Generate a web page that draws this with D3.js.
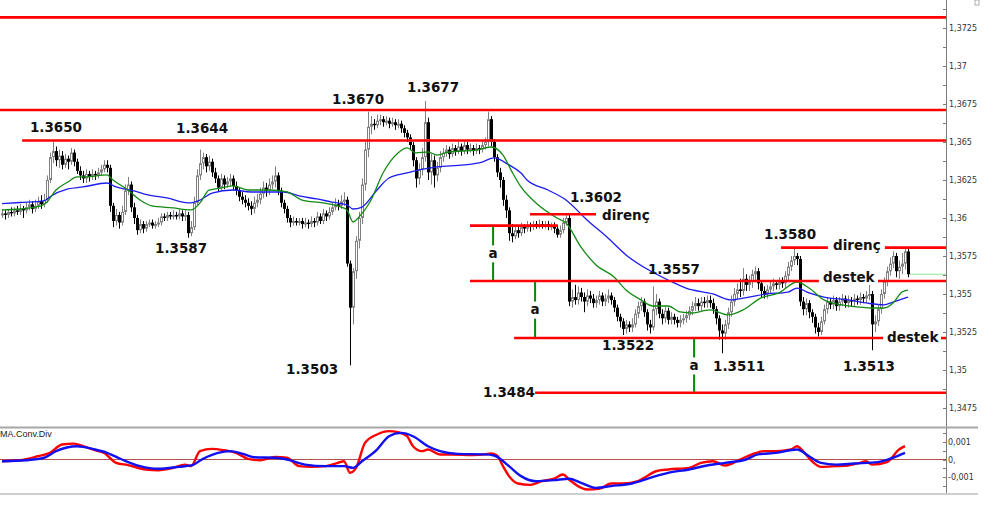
<!DOCTYPE html>
<html><head><meta charset="utf-8">
<script src="https://cdn.jsdelivr.net/npm/d3@7"></script>
<style>html,body{margin:0;padding:0;background:#fff;overflow:hidden}</style>
</head><body><svg id="c" width="1000" height="515"></svg>
<script>
// ---------- DATA ----------
const firstOpen = 1.3602;
const closes = [
1.3603,1.3602,1.3604,1.3603,1.3605,1.3604,1.3606,1.3605,1.3607,1.3609,
1.3606,1.3608,1.3611,1.3609,1.3612,1.3625,1.3640,1.3644,1.3638,1.3641,
1.3635,1.3639,1.3637,1.3643,1.3637,1.3631,1.3628,1.3626,1.3629,1.3627,
1.3629,1.3628,1.3630,1.3632,1.3635,1.3633,1.3608,1.3598,1.3602,1.3597,
1.3604,1.3618,1.3622,1.3607,1.3600,1.3592,1.3596,1.3593,1.3596,1.3597,
1.3595,1.3596,1.3597,1.3601,1.3600,1.3602,1.3601,1.3602,1.3601,1.3603,
1.3601,1.3602,1.3590,1.3594,1.3610,1.3628,1.3636,1.3640,1.3634,1.3637,
1.3630,1.3626,1.3620,1.3626,1.3622,1.3624,1.3626,1.3621,1.3618,1.3614,
1.3612,1.3610,1.3608,1.3606,1.3610,1.3612,1.3616,1.3620,1.3618,1.3622,
1.3624,1.3628,1.3618,1.3610,1.3606,1.3600,1.3597,1.3598,1.3597,1.3598,
1.3596,1.3597,1.3596,1.3598,1.3597,1.3601,1.3598,1.3603,1.3601,1.3604,
1.3607,1.3609,1.3608,1.3611,1.3612,1.3570,1.3541,1.3565,1.3585,1.3600,
1.3622,1.3645,1.3660,1.3662,1.3661,1.3664,1.3665,1.3663,1.3664,1.3662,
1.3663,1.3661,1.3662,1.3659,1.3656,1.3653,1.3648,1.3638,1.3626,1.3632,
1.3640,1.3663,1.3630,1.3638,1.3628,1.3633,1.3640,1.3643,1.3645,1.3642,
1.3646,1.3644,1.3647,1.3644,1.3648,1.3645,1.3646,1.3644,1.3646,1.3645,
1.3648,1.3650,1.3665,1.3650,1.3640,1.3630,1.3625,1.3612,1.3605,1.3590,
1.3588,1.3592,1.3590,1.3594,1.3593,1.3595,1.3594,1.3596,1.3595,1.3596,
1.3595,1.3596,1.3594,1.3595,1.3593,1.3589,1.3592,1.3597,1.3600,1.3545,
1.3548,1.3546,1.3551,1.3548,1.3545,1.3549,1.3547,1.3544,1.3546,1.3549,
1.3545,1.3547,1.3549,1.3546,1.3541,1.3535,1.3532,1.3527,1.3530,1.3528,
1.3530,1.3537,1.3542,1.3545,1.3538,1.3530,1.3528,1.3540,1.3545,1.3537,
1.3534,1.3539,1.3533,1.3535,1.3533,1.3531,1.3533,1.3534,1.3536,1.3539,
1.3542,1.3544,1.3542,1.3545,1.3544,1.3546,1.3544,1.3540,1.3534,1.3526,
1.3524,1.3530,1.3538,1.3545,1.3550,1.3553,1.3552,1.3560,1.3556,1.3558,
1.3563,1.3565,1.3557,1.3552,1.3550,1.3553,1.3555,1.3557,1.3556,1.3558,
1.3557,1.3562,1.3568,1.3572,1.3575,1.3573,1.3545,1.3540,1.3544,1.3538,
1.3535,1.3528,1.3525,1.3532,1.3540,1.3545,1.3543,1.3546,1.3542,1.3545,
1.3547,1.3544,1.3546,1.3545,1.3547,1.3546,1.3548,1.3547,1.3549,1.3550,
1.3530,1.3532,1.3540,1.3550,1.3558,1.3565,1.3570,1.3575,1.3565,1.3568,
1.3570,1.3578,1.3563];
const highs = [
1.3606,1.3605,1.3606,1.3607,1.3607,1.3608,1.3609,1.3608,1.3610,1.3612,
1.3611,1.3612,1.3614,1.3615,1.3616,1.3628,1.3643,1.3650,1.3647,1.3645,
1.3644,1.3642,1.3641,1.3646,1.3645,1.3639,1.3634,1.3631,1.3632,1.3631,
1.3632,1.3631,1.3633,1.3635,1.3638,1.3638,1.3635,1.3610,1.3606,1.3604,
1.3608,1.3622,1.3627,1.3624,1.3610,1.3602,1.3599,1.3598,1.3598,1.3599,
1.3599,1.3598,1.3600,1.3603,1.3603,1.3604,1.3604,1.3605,1.3604,1.3606,
1.3605,1.3605,1.3604,1.3598,1.3614,1.3632,1.3645,1.3643,1.3642,1.3641,
1.3639,1.3633,1.3628,1.3629,1.3628,1.3627,1.3629,1.3628,1.3624,1.3620,
1.3617,1.3615,1.3613,1.3611,1.3614,1.3616,1.3620,1.3624,1.3623,1.3626,
1.3628,1.3634,1.3630,1.3620,1.3612,1.3608,1.3602,1.3601,1.3600,1.3600,
1.3600,1.3600,1.3599,1.3601,1.3600,1.3604,1.3603,1.3606,1.3605,1.3607,
1.3610,1.3613,1.3612,1.3615,1.3617,1.3614,1.3572,1.3567,1.3588,1.3604,
1.3626,1.3650,1.3670,1.3667,1.3665,1.3668,1.3668,1.3667,1.3667,1.3666,
1.3666,1.3665,1.3665,1.3664,1.3661,1.3658,1.3655,1.3650,1.3640,1.3636,
1.3646,1.3677,1.3666,1.3642,1.3641,1.3637,1.3644,1.3646,1.3648,1.3647,
1.3649,1.3648,1.3650,1.3649,1.3651,1.3650,1.3649,1.3648,1.3649,1.3648,
1.3651,1.3653,1.3670,1.3667,1.3652,1.3642,1.3633,1.3627,1.3615,1.3607,
1.3596,1.3595,1.3594,1.3597,1.3596,1.3598,1.3597,1.3598,1.3598,1.3599,
1.3598,1.3598,1.3598,1.3597,1.3597,1.3595,1.3595,1.3600,1.3602,1.3602,
1.3553,1.3556,1.3555,1.3554,1.3551,1.3553,1.3552,1.3550,1.3549,1.3552,
1.3551,1.3550,1.3553,1.3551,1.3548,1.3543,1.3537,1.3534,1.3533,1.3532,
1.3534,1.3540,1.3545,1.3548,1.3547,1.3540,1.3533,1.3555,1.3550,1.3547,
1.3540,1.3542,1.3541,1.3538,1.3537,1.3535,1.3536,1.3537,1.3539,1.3542,
1.3545,1.3548,1.3547,1.3548,1.3548,1.3549,1.3549,1.3547,1.3542,1.3536,
1.3530,1.3533,1.3541,1.3549,1.3554,1.3557,1.3560,1.3567,1.3563,1.3562,
1.3566,1.3568,1.3567,1.3559,1.3555,1.3556,1.3558,1.3560,1.3559,1.3561,
1.3561,1.3565,1.3571,1.3575,1.3580,1.3577,1.3575,1.3548,1.3547,1.3546,
1.3540,1.3537,1.3531,1.3535,1.3543,1.3548,1.3547,1.3549,1.3548,1.3548,
1.3550,1.3549,1.3549,1.3548,1.3550,1.3549,1.3551,1.3550,1.3552,1.3556,
1.3552,1.3536,1.3543,1.3553,1.3561,1.3568,1.3574,1.3578,1.3577,1.3572,
1.3577,1.3580,1.3580];
const lows = [
1.3600,1.3599,1.3600,1.3601,1.3601,1.3602,1.3602,1.3600,1.3603,1.3605,
1.3603,1.3604,1.3606,1.3606,1.3607,1.3610,1.3623,1.3636,1.3634,1.3633,
1.3632,1.3633,1.3632,1.3635,1.3634,1.3629,1.3625,1.3623,1.3623,1.3624,
1.3625,1.3625,1.3626,1.3628,1.3630,1.3630,1.3604,1.3594,1.3595,1.3593,
1.3595,1.3602,1.3615,1.3604,1.3596,1.3589,1.3590,1.3590,1.3591,1.3594,
1.3593,1.3593,1.3594,1.3595,1.3598,1.3598,1.3599,1.3599,1.3599,1.3599,
1.3598,1.3598,1.3587,1.3588,1.3592,1.3608,1.3625,1.3632,1.3630,1.3631,
1.3627,1.3623,1.3617,1.3618,1.3619,1.3620,1.3621,1.3618,1.3615,1.3611,
1.3609,1.3607,1.3605,1.3602,1.3603,1.3607,1.3609,1.3613,1.3614,1.3615,
1.3619,1.3620,1.3615,1.3607,1.3603,1.3597,1.3594,1.3595,1.3595,1.3595,
1.3593,1.3594,1.3593,1.3594,1.3594,1.3595,1.3596,1.3596,1.3598,1.3599,
1.3602,1.3605,1.3605,1.3606,1.3608,1.3568,1.3503,1.3530,1.3560,1.3580,
1.3596,1.3618,1.3640,1.3655,1.3658,1.3659,1.3661,1.3660,1.3661,1.3659,
1.3660,1.3658,1.3659,1.3656,1.3653,1.3650,1.3645,1.3634,1.3620,1.3622,
1.3628,1.3637,1.3625,1.3622,1.3620,1.3624,1.3630,1.3637,1.3640,1.3639,
1.3640,1.3641,1.3642,1.3641,1.3642,1.3642,1.3643,1.3641,1.3642,1.3642,
1.3643,1.3645,1.3647,1.3647,1.3637,1.3627,1.3620,1.3608,1.3600,1.3585,
1.3584,1.3586,1.3587,1.3588,1.3590,1.3591,1.3591,1.3592,1.3593,1.3593,
1.3593,1.3593,1.3592,1.3592,1.3590,1.3587,1.3587,1.3590,1.3595,1.3542,
1.3541,1.3543,1.3543,1.3545,1.3538,1.3542,1.3544,1.3541,1.3541,1.3543,
1.3542,1.3542,1.3544,1.3543,1.3538,1.3532,1.3528,1.3523,1.3524,1.3525,
1.3525,1.3528,1.3534,1.3539,1.3535,1.3526,1.3524,1.3526,1.3536,1.3534,
1.3530,1.3531,1.3530,1.3530,1.3530,1.3528,1.3528,1.3530,1.3531,1.3533,
1.3536,1.3539,1.3539,1.3539,1.3541,1.3541,1.3541,1.3537,1.3530,1.3520,
1.3511,1.3520,1.3527,1.3535,1.3542,1.3546,1.3548,1.3549,1.3552,1.3552,
1.3554,1.3559,1.3553,1.3548,1.3547,1.3547,1.3550,1.3552,1.3553,1.3553,
1.3554,1.3554,1.3559,1.3565,1.3569,1.3569,1.3542,1.3536,1.3536,1.3534,
1.3531,1.3524,1.3522,1.3523,1.3530,1.3537,1.3540,1.3540,1.3539,1.3539,
1.3542,1.3541,1.3541,1.3542,1.3542,1.3543,1.3543,1.3544,1.3544,1.3546,
1.3513,1.3525,1.3529,1.3537,1.3547,1.3555,1.3562,1.3567,1.3561,1.3560,
1.3563,1.3566,1.3561];

// moving averages: [bar index, price]
const maFast = [[0,1.36053],[6,1.36059],[13,1.36079],[15,1.36105],[18,1.36184],[22,1.36237],[25,1.3627],[28,1.3627],[35,1.36283],[37,1.3625],[42,1.36184],[46,1.36118],[50,1.36079],[57,1.36066],[63,1.36053],[66,1.36099],[69,1.36184],[73,1.36197],[77,1.36211],[82,1.36184],[89,1.36184],[95,1.36171],[100,1.36118],[107,1.36099],[113,1.36072],[115,1.36053],[117,1.35974],[119,1.36007],[123,1.36118],[127,1.36296],[132,1.36428],[135,1.36461],[138,1.36428],[142,1.36434],[145,1.36414],[149,1.36434],[158,1.36447],[163,1.36467],[167,1.36414],[170,1.36303],[173,1.36204],[178,1.36099],[185,1.36],[188,1.35967],[193,1.35809],[198,1.35691],[204,1.35612],[208,1.35526],[213,1.35461],[217,1.35421],[222,1.35421],[226,1.35382],[230,1.35375],[236,1.35395],[242,1.35362],[247,1.35395],[253,1.35474],[259,1.35507],[265,1.35579],[269,1.35539],[274,1.35461],[280,1.35428],[286,1.35414],[290,1.35408],[294,1.35408],[297,1.35441],[300,1.35513],[302,1.35526]];
const maSlow = [[0,1.36095],[6,1.36102],[14,1.36112],[16,1.36140],[22,1.36191],[27,1.36204],[35,1.3623],[38,1.36204],[44,1.36178],[49,1.36151],[55,1.36132],[62,1.36099],[66,1.36118],[70,1.36164],[77,1.36184],[83,1.36171],[94,1.36171],[99,1.36145],[105,1.36125],[110,1.36105],[115,1.36086],[117,1.36059],[120,1.36072],[125,1.36184],[129,1.36263],[135,1.36296],[139,1.36316],[145,1.36336],[154,1.36349],[160,1.36368],[164,1.36395],[169,1.36349],[173,1.36296],[175,1.3625],[182,1.36184],[188,1.36118],[195,1.35987],[202,1.35868],[208,1.35757],[215,1.35664],[222,1.35592],[228,1.35539],[237,1.355],[243,1.35461],[249,1.3548],[255,1.355],[262,1.35513],[265,1.35539],[269,1.35507],[274,1.3548],[282,1.35461],[288,1.35441],[294,1.35428],[297,1.35447],[302,1.3548]];

// MACD panel: [bar index, value]
const macdMain = [[0,-0.0001],[6,-0.00004],[12,0.00019],[16,0.00038],[20,0.00086],[24,0.00091],[27,0.00076],[31,0.00053],[34,0.00038],[38,-0.00019],[42,-0.00032],[48,-0.00057],[52,-0.00061],[57,-0.00048],[61,-0.00029],[63,-0.00038],[66,0.00048],[70,0.00061],[74,0.00053],[78,0.00038],[82,0.00004],[86,-0.00004],[91,0.00015],[95,0.0001],[99,-0.00038],[103,-0.00042],[108,-0.00038],[112,-0.00019],[114,-0.0001],[116,-0.00076],[118,-0.00048],[121,0.00095],[125,0.00143],[129,0.00162],[132,0.00156],[135,0.00133],[137,0.00076],[140,0.00048],[142,0.00057],[146,0.00029],[150,0.00029],[157,0.00025],[161,0.00029],[163,0.00034],[165,0.00023],[167,-0.00038],[169,-0.00095],[172,-0.00137],[176,-0.00145],[180,-0.00124],[184,-0.0011],[187,-0.00086],[189,-0.00114],[192,-0.00152],[195,-0.00171],[199,-0.00168],[203,-0.00137],[207,-0.00137],[212,-0.00124],[214,-0.00105],[218,-0.00067],[222,-0.00057],[229,-0.00048],[233,-0.00019],[237,-0.0001],[241,-0.00034],[246,0],[250,0.00029],[254,0.00048],[258,0.00048],[263,0.00057],[265,0.00076],[267,0.00048],[270,-0.0001],[273,-0.00042],[278,-0.00038],[282,-0.00034],[286,-0.00019],[288,-0.0001],[290,-0.00029],[295,-0.00015],[299,0.00057],[301,0.00076]];
const macdSignal = [[0,-0.0001],[8,-0.00004],[14,0.0001],[18,0.00048],[25,0.00076],[31,0.00057],[35,0.00038],[40,0],[46,-0.00038],[52,-0.00053],[59,-0.00042],[63,-0.00034],[67,0.00004],[72,0.00038],[76,0.00048],[80,0.00034],[84,0.00013],[91,0.0001],[95,0],[101,-0.00029],[108,-0.00038],[114,-0.00038],[117,-0.00048],[120,-0.0001],[125,0.00057],[129,0.00133],[133,0.00152],[137,0.00133],[142,0.00076],[146,0.00048],[152,0.00032],[161,0.00029],[164,0.00023],[169,-0.00038],[173,-0.00095],[178,-0.00124],[184,-0.00118],[189,-0.0011],[193,-0.00133],[198,-0.00162],[203,-0.00152],[210,-0.00137],[216,-0.00105],[222,-0.00076],[229,-0.00057],[235,-0.00034],[241,-0.00019],[248,0],[252,0.00029],[258,0.00038],[265,0.00057],[269,0.00019],[273,-0.00019],[278,-0.00029],[284,-0.00023],[292,-0.00015],[297,0.0001],[301,0.00038]];

// price axis tick labels
const priceTicks = [1.3725,1.37,1.3675,1.365,1.3625,1.36,1.3575,1.355,1.3525,1.35,1.3475];
const priceTickLabels = ["1,3725","1,37","1,3675","1,365","1,3625","1,36","1,3575","1,355","1,3525","1,35","1,3475"];
const macdTicks = [0.001,0,-0.001];
const macdTickLabels = ["0,001","0,","-0,001"];

// drawn support / resistance levels: price, from bar, to bar (null = edge/axis)
const levels = [
  [1.3732,null,null],[1.3671,null,null],[1.3651,6.7,null],
  [1.36025,176,198],[1.3595,156,185.3],
  [1.35585,156,272.3],[1.35585,292,null],
  [1.35805,259.7,275.3],[1.35805,294.3,null],
  [1.3521,170.7,293.7],[1.3521,313,null],
  [1.3485,177.7,null]
];
// "a" measuring markers: bar, upper price, lower price
const measures = [[163.7,1.3595,1.35585],[177.7,1.35585,1.3521],[230.7,1.3521,1.3485]];
// alert dots
const alerts = [[136,1.3651],[142,1.3651],[162.8,1.3651]];
// text annotations: text, bar, price (baseline)
const notes = [
  ["1.3650",9.3,1.36566],["1.3644",58,1.36559],["1.3670",110,1.3675],["1.3677",135,1.36829],
  ["1.3587",51,1.3577],["1.3503",94.7,1.34974],["1.3602",189.3,1.36105],["direnç",200,1.35987],
  ["1.3557",215.3,1.35632],["1.3522",200,1.35132],["1.3484",160.3,1.34822],["1.3580",254,1.35862],
  ["direnç",277,1.35789],["destek",273.7,1.35579],["destek",295,1.35184],["1.3511",237,1.34993],
  ["1.3513",280.3,1.34993]
];

// ---------- CHART ----------
const svg = d3.select('#c');
const axisX = 946, mainH = 427;
const x = d3.scaleLinear().domain([0, 302]).range([2, 908]);
const y = d3.scaleLinear().domain([1.34625, 1.37434]).range([mainH, 0]);
const ym = d3.scaleLinear().domain([-0.001, 0.001]).range([477, 442]);

const defs = svg.append('defs');
defs.append('clipPath').attr('id','clipMain').append('rect').attr('x',0).attr('y',0).attr('width',axisX).attr('height',mainH);
defs.append('clipPath').attr('id','clipMacd').append('rect').attr('x',0).attr('y',428).attr('width',axisX).attr('height',65);

const gMain = svg.append('g').attr('clip-path','url(#clipMain)');

// candles
const candles = closes.map((c,i)=>({i, o: i? closes[i-1] : firstOpen, c, h: highs[i], l: lows[i]}));
gMain.append('g').selectAll('line').data(candles).join('line')
  .attr('x1',d=>x(d.i)+0.5).attr('x2',d=>x(d.i)+0.5)
  .attr('y1',d=>y(d.h)).attr('y2',d=>y(d.l))
  .attr('stroke',d=>d.c>=d.o?'#808080':'#000').attr('stroke-width',1);
gMain.append('g').selectAll('rect').data(candles).join('rect')
  .attr('x',d=> d.c>=d.o ? x(d.i)-0.5 : x(d.i)-1)
  .attr('width',d=> d.c>=d.o ? 2 : 3)
  .attr('y',d=> d.c>=d.o ? y(Math.max(d.o,d.c))+0.5 : y(Math.max(d.o,d.c)))
  .attr('height',d=> Math.max(1, Math.abs(y(d.o)-y(d.c)) - (d.c>=d.o?1:0)))
  .attr('fill',d=>d.c>=d.o?'#fff':'#000')
  .attr('stroke',d=>d.c>=d.o?'#808080':'none').attr('stroke-width',1);

// moving averages
const maLine = d3.line().x(d=>x(d[0])).y(d=>y(d[1])).curve(d3.curveMonotoneX);
gMain.append('path').datum(maSlow).attr('d',maLine).attr('fill','none').attr('stroke','#1c1cf0').attr('stroke-width',1.3);
gMain.append('path').datum(maFast).attr('d',maLine).attr('fill','none').attr('stroke','#138a13').attr('stroke-width',1.3);

// current price line
gMain.append('line').attr('x1',x(302)+2).attr('x2',axisX).attr('y1',y(closes[302])).attr('y2',y(closes[302]))
  .attr('stroke','#8fe88f').attr('stroke-width',1);

// alerts
gMain.selectAll('rect.al').data(alerts).join('rect').attr('class','al')
  .attr('x',d=>x(d[0])-1.5).attr('y',d=>y(d[1])-1.5).attr('width',3).attr('height',3).attr('fill','#19c8c8');

// levels
gMain.selectAll('line.lv').data(levels).join('line').attr('class','lv')
  .attr('x1',d=> d[1]===null ? 0 : x(d[1]))
  .attr('x2',d=> d[2]===null ? axisX : x(d[2]))
  .attr('y1',d=>y(d[0])).attr('y2',d=>y(d[0]))
  .attr('stroke','#ff0000').attr('stroke-width',2.6);

// measuring markers
const gm = gMain.append('g');
measures.forEach(m=>{
  const top = y(m[1]), bot = y(m[2]), mid = (top+bot)/2;
  gm.append('line').attr('x1',x(m[0])).attr('x2',x(m[0])).attr('y1',top+1).attr('y2',mid-8)
    .attr('stroke','#008a00').attr('stroke-width',2);
  gm.append('line').attr('x1',x(m[0])).attr('x2',x(m[0])).attr('y1',mid+9).attr('y2',bot-1)
    .attr('stroke','#008a00').attr('stroke-width',2);
  gm.append('text').attr('x',x(m[0])).attr('y',mid+4.5).attr('text-anchor','middle')
    .attr('font-family','DejaVu Sans').attr('font-weight','bold').attr('font-size',13.5).attr('fill','#111').text('a');
});

// notes
svg.append('g').selectAll('text').data(notes).join('text')
  .attr('x',d=>x(d[1])).attr('y',d=>y(d[2]))
  .attr('font-family','DejaVu Sans').attr('font-weight','bold').attr('font-size',13.5).attr('fill','#111')
  .text(d=>d[0]);

// price axis
svg.append('line').attr('x1',axisX+0.5).attr('x2',axisX+0.5).attr('y1',0).attr('y2',494).attr('stroke','#7c7c7c');
const minor = d3.range(1.34625, 1.3745, 0.00125);
svg.append('g').selectAll('line').data(minor).join('line')
  .attr('x1',axisX-3).attr('x2',axisX+1).attr('y1',d=>Math.round(y(d))+0.5).attr('y2',d=>Math.round(y(d))+0.5)
  .attr('stroke','#7c7c7c');
svg.append('g').selectAll('text').data(priceTicks).join('text')
  .attr('x',axisX+3).attr('y',d=>y(d)+3)
  .attr('font-family','DejaVu Sans').attr('font-size',8).attr('fill','#333')
  .text((d,i)=>priceTickLabels[i]);

// panel separators
svg.append('line').attr('x1',0).attr('x2',978).attr('y1',427.5).attr('y2',427.5).attr('stroke','#a6a6a6').attr('stroke-width',2);
svg.append('line').attr('x1',0).attr('x2',978).attr('y1',494).attr('y2',494).attr('stroke','#cfcfcf').attr('stroke-width',2);
svg.append('rect').attr('x',975).attr('y',0).attr('width',4).attr('height',5).attr('fill','none').attr('stroke','#999').attr('stroke-width',0.8);

// MACD panel
const gM = svg.append('g').attr('clip-path','url(#clipMacd)');
gM.append('line').attr('x1',0).attr('x2',axisX).attr('y1',ym(0)).attr('y2',ym(0)).attr('stroke','#b45050').attr('stroke-width',1);
const mLine = d3.line().x(d=>x(d[0])).y(d=>ym(d[1])).curve(d3.curveMonotoneX);
gM.append('path').datum(macdMain).attr('d',mLine).attr('fill','none').attr('stroke','#ff0000').attr('stroke-width',2.4);
gM.append('path').datum(macdSignal).attr('d',mLine).attr('fill','none').attr('stroke','#1010f0').attr('stroke-width',2.4);
svg.append('text').attr('x',0).attr('y',437).attr('font-family','Liberation Sans').attr('font-size',9).attr('fill','#222').text('MA.Conv.Div');
const mMinor = d3.range(-0.0015, 0.0016, 0.0005);
svg.append('g').selectAll('line').data(mMinor).join('line')
  .attr('x1',axisX-3).attr('x2',axisX+1).attr('y1',d=>Math.round(ym(d))+0.5).attr('y2',d=>Math.round(ym(d))+0.5)
  .attr('stroke','#7c7c7c');
svg.append('g').selectAll('text').data(macdTicks).join('text')
  .attr('x',axisX+2).attr('y',d=>ym(d)+3)
  .attr('font-family','DejaVu Sans').attr('font-size',8).attr('fill','#333')
  .text((d,i)=>macdTickLabels[i]);
</script>
</body></html>
